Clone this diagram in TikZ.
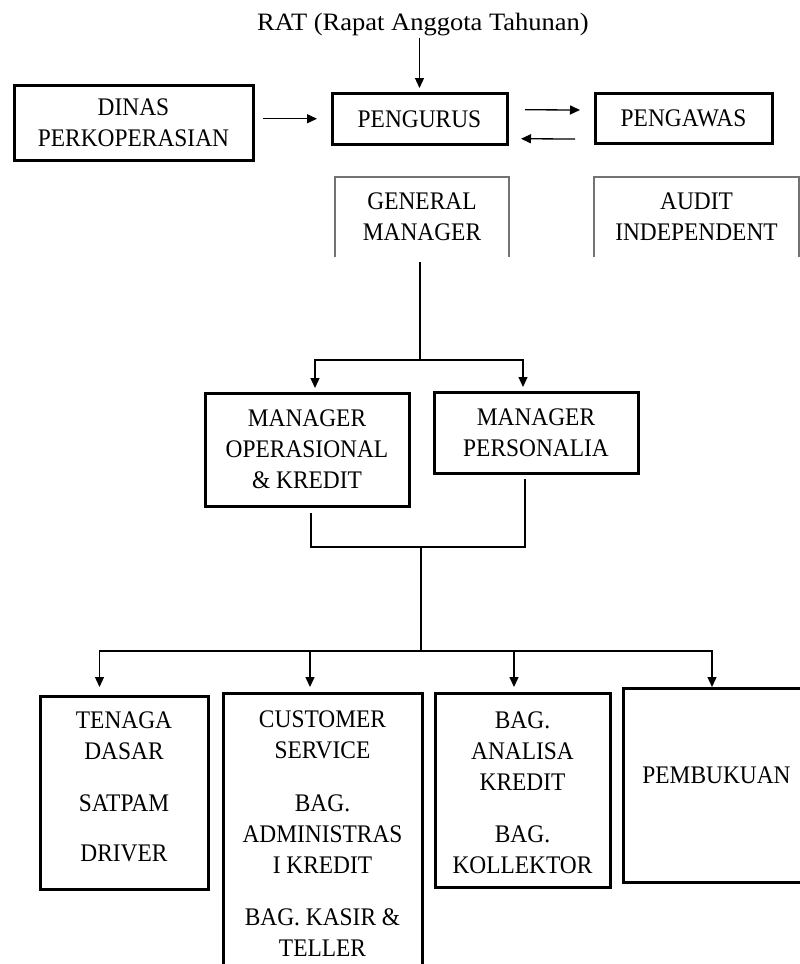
\documentclass[tikz,border=0pt]{standalone}
\usepackage{fontspec}
\setmainfont{Liberation Serif}[FakeStretch=0.925]
\newfontfamily\ratfamily{Liberation Serif}[FakeStretch=1.06]
\usetikzlibrary{arrows.meta,calc}

\newcommand\orgfont{\fontsize{25.3pt}{31pt}\selectfont}
\newcommand\ratfont{\ratfamily\fontsize{25pt}{30pt}\selectfont}
\newcommand\stack[1]{\begin{tabular}[t]{@{}c@{}}#1\end{tabular}}

\begin{document}
\begin{tikzpicture}[x=1pt,y=-1pt,>={Triangle[length=10pt,width=9pt]},
                    every node/.style={font=\orgfont,inner sep=0pt,outer sep=0pt,align=center},
                    thickbox/.style={draw,line width=3pt},
                    openbox/.style={draw=black!55,line width=1.2pt},
                    link/.style={line width=1.3pt},
                    arr/.style={link,->}]
  \useasboundingbox (0,0) rectangle (800,964);

  \node[font=\ratfont,anchor=base] (rat) at (423,30) {RAT (Rapat Anggota Tahunan)};
  \node[thickbox,minimum width=239pt,minimum height=75pt]   (dinas)    at (133.5,123)   {DINAS\\PERKOPERASIAN};
  \node[thickbox,minimum width=175pt,minimum height=51.5pt] (pengurus) at (419.5,118.75) {PENGURUS};
  \node[thickbox,minimum width=177pt,minimum height=50pt]   (pengawas) at (683.5,118)   {PENGAWAS};
  \node[minimum width=174pt,minimum height=80pt]            (gm)       at (422,217)     {GENERAL\\MANAGER};
  \node[minimum width=205pt,minimum height=80pt]            (audit)    at (696.5,217)   {AUDIT\\INDEPENDENT};

  \node[thickbox,minimum width=204pt,minimum height=113pt]  (mok)      at (307,449.5)   {MANAGER\\OPERASIONAL\\\& KREDIT};
  \node[thickbox,minimum width=204pt,minimum height=81pt]   (mp)       at (536,432.5)   {MANAGER\\PERSONALIA};

  \node[thickbox,anchor=north,minimum width=168pt,text height=32pt,text depth=161pt] (tenaga)    at (124,696)
       {\stack{TENAGA\\DASAR\\[21pt]SATPAM\\[19pt]DRIVER}};
  \node[thickbox,anchor=north,minimum width=199pt,text height=34pt,text depth=263pt] (custserv)  at (322.5,693)
       {\stack{CUSTOMER\\SERVICE\\[22pt]BAG.\\ADMINISTRAS\\I KREDIT\\[21pt]BAG. KASIR \&\\TELLER}};
  \node[thickbox,anchor=north,minimum width=175pt,text height=35pt,text depth=159pt] (analisa)   at (522.5,693)
       {\stack{BAG.\\ANALISA\\KREDIT\\[21pt]BAG.\\KOLLEKTOR}};
  \node[thickbox,anchor=north,minimum width=187pt,text height=95pt,text depth=99pt]  (pembukuan) at (716.5,688)
       {PEMBUKUAN};

  % open frames round the two staff units
  \draw[openbox] (gm.south west) |- (gm.north east) -- (gm.south east);
  \draw[openbox] (audit.south west) |- (audit.north east) -- (audit.south east);

  \coordinate (gmsplit)    at (420,360);
  \coordinate (mgrjoin)    at (421,547);
  \coordinate (staffsplit) at (421,651);

  \draw[arr,shorten <=3pt,shorten >=5pt] (rat.south -| pengurus.north) -- (pengurus.north);
  \draw[arr,shorten >=15pt] ($(dinas.east |- pengurus.west)+(10,0)$) -- (pengurus.west);
  \draw[arr] ($(pengurus.east)+(18,-9)$) -- ($(pengawas.west)+(-15,-8)$);
  \draw[arr] ($(pengawas.west)+(-20,21)$) -- ($(pengurus.east)+(14,20)$);

  \draw[link,shorten <=5pt] (gm.south -| gmsplit) -- (gmsplit);
  \draw[arr,shorten >=5pt] (gmsplit) -| ($(mok.north)+(8,0)$);
  \draw[arr,shorten >=5pt] (gmsplit) -| ($(mp.north)+(-13,0)$);

  \draw[link] ($(mok.south)+(4,7)$) |- (mgrjoin) -| ($(mp.south)+(-11,6)$);
  \draw[link] (mgrjoin) -- (staffsplit);
  \draw[arr,shorten >=9pt] (staffsplit) -| ($(tenaga.north)+(-24.5,0)$);
  \draw[arr,shorten >=6pt] (staffsplit) -| ($(custserv.north)+(-12.5,0)$);
  \draw[arr,shorten >=6pt] (staffsplit) -| ($(analisa.north)+(-8.5,0)$);
  \draw[arr,shorten >=1pt] (staffsplit) -| ($(pembukuan.north)+(-4.5,0)$);
\end{tikzpicture}
\end{document}
